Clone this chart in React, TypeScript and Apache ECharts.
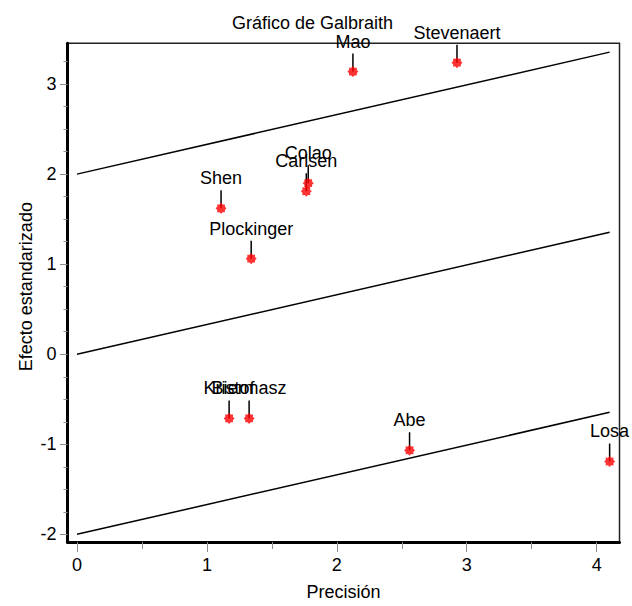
import React, { useEffect, useRef } from "react";
import * as echarts from "echarts";

// ---- data ----
const studyNames = ["Mao", "Stevenaert", "Colao", "Carlsen", "Shen", "Plockinger", "Kristof", "Biermasz", "Abe", "Losa"];
const precision = [2.124, 2.925, 1.78, 1.765, 1.109, 1.341, 1.171, 1.325, 2.56, 4.1];
const standardizedEffect = [3.139, 3.238, 1.9, 1.81, 1.62, 1.061, -0.713, -0.713, -1.066, -1.191];

// regression line through origin and the +/-2 bands
const lineX = [0, 4.1];
const upperBand = [2, 3.355];
const fitLine = [0, 1.355];
const lowerBand = [-2, -0.645];

// ticks
const xTicks = [0, 1, 2, 3, 4];
const xMinorTicks = [0.5, 1.5, 2.5, 3.5];
const yTicks = [-2, -1, 0, 1, 2, 3];
const yMinorTicks = [-1.75, -1.5, -1.25, -0.75, -0.5, -0.25, 0.25, 0.5, 0.75, 1.25, 1.5, 1.75, 2.25, 2.5, 2.75, 3.25];

const FONT = '"Liberation Sans", Arial, sans-serif';
const STAR =
  "path://M20,10 L17,12.9 L17.07,17.07 L12.9,17 L10,20 L7.1,17 L2.93,17.07 L3,12.9 L0,10 L3,7.1 L2.93,2.93 L7.1,3 L10,0 L12.9,3 L17.07,2.93 L17,7.1 Z";

export default function App() {
  const ref = useRef<HTMLDivElement>(null);
  useEffect(() => {
    if (!ref.current) return;
    const chart = echarts.init(ref.current, undefined, { renderer: "svg" });
    const xMin = -0.073;
    const xMax = 4.176;
    const yMin = -2.085;
    const yMax = 3.453;
    const tickColor = "#8c8c8c";
    const mkLine = (ys: number[]) => ({
      type: "line",
      data: lineX.map((x, i) => [x, ys[i]]),
      symbol: "none",
      silent: true,
      lineStyle: { color: "#000", width: 1.5 },
      z: 2,
    });
    chart.setOption({
      animation: false,
      backgroundColor: "#fff",
      textStyle: { fontFamily: FONT },
      title: {
        text: "Gráfico de Galbraith",
        left: 227,
        top: 9,
        textStyle: { fontSize: 18, fontWeight: "normal", color: "#000", fontFamily: FONT },
      },
      grid: {
        left: 67.5,
        right: 12.5,
        top: 43.3,
        bottom: 61,
        show: true,
        borderColor: "#222",
        borderWidth: 1.5,
      },
      xAxis: [
        {
          type: "value",
          min: xMin,
          max: xMax,
          name: "Precisión",
          nameLocation: "middle",
          nameGap: 41,
          nameMoveOverlap: false,
          nameTextStyle: { fontSize: 18, color: "#000", fontFamily: FONT },
          axisLine: { show: true, onZero: false, lineStyle: { color: "#000", width: 3 } },
          axisTick: { show: true, customValues: xTicks, length: 10, lineStyle: { color: tickColor, width: 1 } },
          axisLabel: { show: true, customValues: xTicks, margin: 14, fontSize: 18, color: "#000", fontFamily: FONT },
          splitLine: { show: false },
        },
        {
          type: "value",
          min: xMin,
          max: xMax,
          position: "bottom",
          axisLine: { show: false, onZero: false },
          axisTick: { show: true, customValues: xMinorTicks, length: 7, lineStyle: { color: tickColor, width: 1 } },
          axisLabel: { show: false },
          splitLine: { show: false },
        },
      ],
      yAxis: [
        {
          type: "value",
          min: yMin,
          max: yMax,
          name: "Efecto estandarizado",
          nameLocation: "middle",
          nameGap: 33,
          nameMoveOverlap: false,
          nameTextStyle: { fontSize: 18, color: "#000", fontFamily: FONT, padding: [0, 0, 0, 12] },
          axisLine: { show: true, onZero: false, lineStyle: { color: "#000", width: 3 } },
          axisTick: { show: true, customValues: yTicks, length: 7.5, lineStyle: { color: tickColor, width: 1 } },
          axisLabel: { show: true, customValues: yTicks, margin: 11, fontSize: 18, color: "#000", fontFamily: FONT },
          splitLine: { show: false },
        },
        {
          type: "value",
          min: yMin,
          max: yMax,
          position: "left",
          axisLine: { show: false, onZero: false },
          axisTick: { show: true, customValues: yMinorTicks, length: 4, lineStyle: { color: tickColor, width: 1 } },
          axisLabel: { show: false },
          splitLine: { show: false },
        },
      ],
      series: [
        mkLine(upperBand),
        mkLine(fitLine),
        mkLine(lowerBand),
        {
          type: "custom",
          data: studyNames.map((n, i) => [precision[i], standardizedEffect[i]]),
          encode: { x: 0, y: 1 },
          z: 3,
          silent: true,
          renderItem: (params: any, api: any) => {
            const p = api.coord([api.value(0), api.value(1)]);
            return {
              type: "group",
              children: [
                {
                  type: "line",
                  shape: { x1: p[0], y1: p[1], x2: p[0], y2: p[1] - 18 },
                  style: { stroke: "#000", lineWidth: 1.5 },
                },
                {
                  type: "text",
                  style: {
                    text: studyNames[params.dataIndex],
                    x: p[0],
                    y: p[1] - 30,
                    align: "center",
                    verticalAlign: "middle",
                    fontSize: 18,
                    fontFamily: FONT,
                    fill: "#000",
                  },
                },
              ],
            };
          },
        },
        {
          type: "scatter",
          data: precision.map((x, i) => [x, standardizedEffect[i]]),
          symbol: STAR,
          symbolSize: 11,
          itemStyle: { color: "#ff0000" },
          z: 5,
        },
      ],
    });
    return () => chart.dispose();
  }, []);
  return (
    <div
      ref={ref}
      style={{ position: "fixed", left: 0, top: 0, width: 632, height: 606, background: "#fff" }}
    />
  );
}
